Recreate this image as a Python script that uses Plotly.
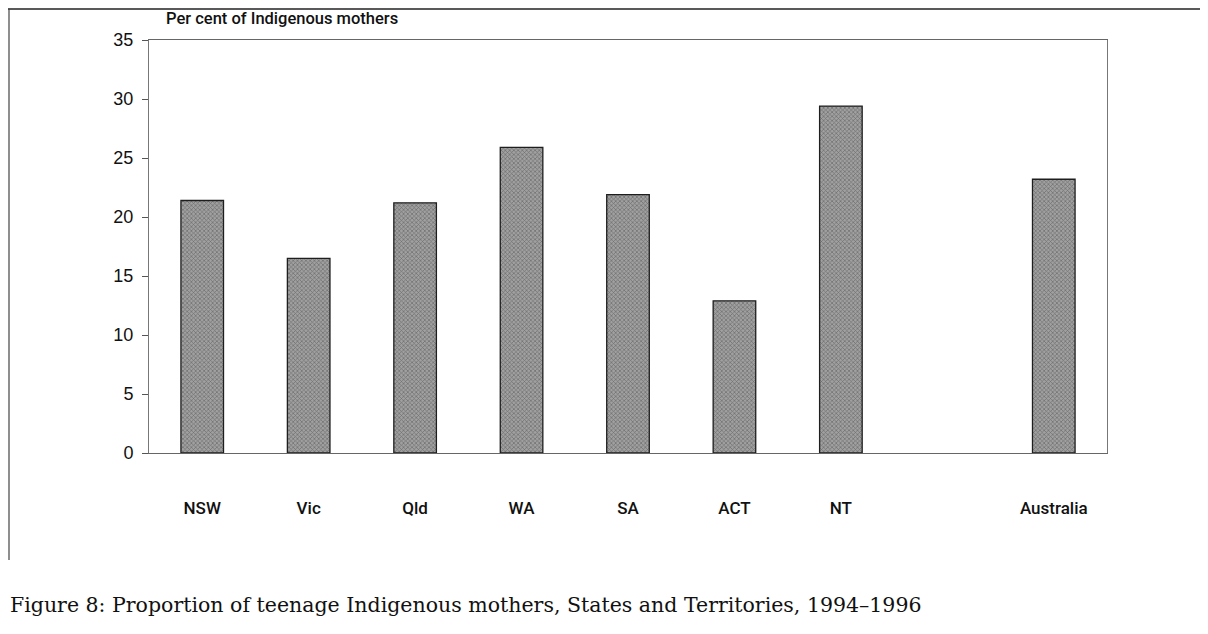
import plotly.graph_objects as go

categories = ["NSW", "Vic", "Qld", "WA", "SA", "ACT", "NT", "Australia"]
values = [21.4, 16.5, 21.2, 25.9, 21.9, 12.9, 29.4, 23.2]
axis_order = categories[:7] + [" "] + categories[7:]
y_ticks = [0, 5, 10, 15, 20, 25, 30, 35]

W, H = 1208, 634
L, R, T, B = 141, 109, 32, 189
pw, ph = W - L - R, H - T - B

def px(x):
    return (x - L) / pw

def py(y):
    return (H - B - y) / ph

LABEL_FONT = "Roboto, Liberation Sans, Arial, sans-serif"

fig = go.Figure()
fig.add_trace(go.Bar(
    x=categories, y=values, width=0.4,
    marker=dict(
        color="#a0a0a0",
        line=dict(color="#1e1e1e", width=1.3),
        pattern=dict(shape="x", size=3, solidity=0.4, fgcolor="#383838", fillmode="overlay"),
    ),
    hoverinfo="x+y",
))

fig.update_layout(
    width=W, height=H,
    margin=dict(l=L, r=R, t=T, b=B, pad=0),
    paper_bgcolor="white", plot_bgcolor="white",
    showlegend=False,
    font=dict(family="Liberation Sans, Arial, sans-serif", color="#111"),
    xaxis=dict(
        type="category", categoryorder="array", categoryarray=axis_order,
        range=[-0.5, 8.5],
        showgrid=False, showline=True, linecolor="#666", linewidth=1, mirror=True,
        ticks="", tickfont=dict(size=17, color="#111", weight=500, family=LABEL_FONT),
        ticklabelstandoff=40,
    ),
    yaxis=dict(
        range=[0, 35], tickvals=y_ticks, showgrid=False, zeroline=False,
        showline=True, linecolor="#777", linewidth=1, mirror=True,
        ticks="outside", ticklen=6, tickcolor="#555",
        tickfont=dict(size=18, color="#111"), ticklabelstandoff=5,
    ),
)

fig.add_annotation(
    text="Per cent of Indigenous mothers", xref="paper", yref="paper",
    x=px(156), y=py(11), xanchor="left", yanchor="middle", showarrow=False,
    font=dict(size=16.5, color="#111", weight=500, family=LABEL_FONT),
)
fig.add_annotation(
    text="Figure 8: Proportion of teenage Indigenous mothers, States and Territories, 1994\u20131996",
    xref="paper", yref="paper", x=px(0), y=py(597), xanchor="left", yanchor="middle",
    showarrow=False,
    font=dict(size=20.5, color="#111", family="DejaVu Serif, Liberation Serif, serif"),
)
fig.add_shape(type="line", xref="paper", yref="paper", x0=px(0), x1=px(1208), y0=py(1), y1=py(1),
              line=dict(color="#222", width=1.5))
fig.add_shape(type="line", xref="paper", yref="paper", x0=px(1), x1=px(1), y0=py(1), y1=py(552),
              line=dict(color="#444", width=1.2))

fig.write_html("out.html")
